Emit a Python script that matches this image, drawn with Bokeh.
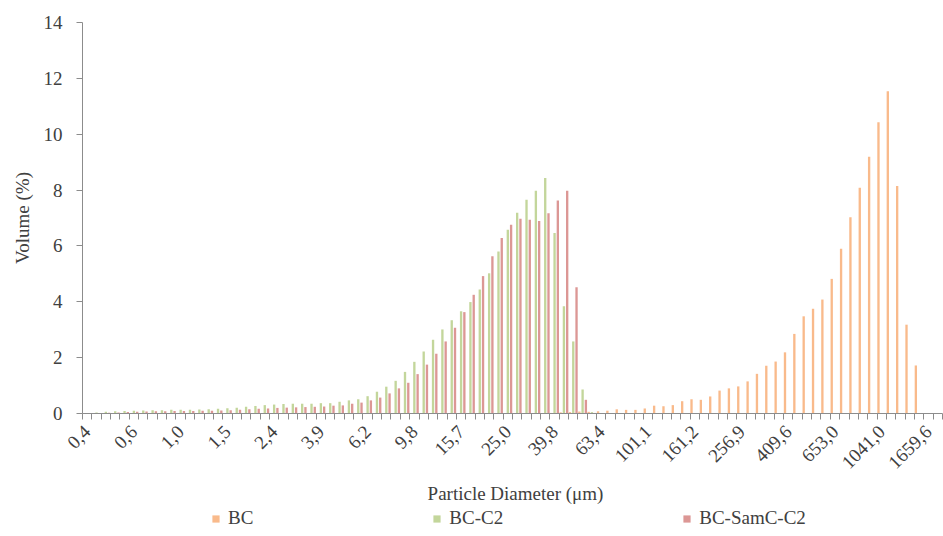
from math import pi

from bokeh.embed import file_html
from bokeh.models import (ColumnDataSource, FixedTicker, Label, Legend, LegendItem,
                          Range1d)
from bokeh.plotting import figure
from bokeh.resources import INLINE

# Particle diameter classes (µm); one label shown every fifth class
diameter_labels = ["0,4", "0,6", "1,0", "1,5", "2,4", "3,9", "6,2", "9,8", "15,7",
                   "25,0", "39,8", "63,4", "101,1", "161,2", "256,9", "409,6",
                   "653,0", "1041,0", "1659,6"]
label_step = 5

# Volume (%) per size class
bc = [0, 0, 0, 0, 0, 0, 0, 0, 0, 0,
      0, 0, 0, 0, 0, 0, 0, 0, 0, 0,
      0, 0, 0, 0, 0, 0, 0, 0, 0, 0,
      0, 0, 0, 0, 0, 0, 0, 0, 0, 0,
      0, 0, 0, 0, 0, 0, 0, 0, 0, 0.01,
      0.02, 0.04, 0.05, 0.07, 0.06, 0.08, 0.10, 0.15, 0.13, 0.13,
      0.18, 0.28, 0.26, 0.30, 0.44, 0.51, 0.49, 0.61, 0.82, 0.90,
      0.97, 1.15, 1.42, 1.71, 1.86, 2.19, 2.85, 3.48, 3.75, 4.08,
      4.82, 5.90, 7.03, 8.08, 9.19, 10.43, 11.54, 8.15, 3.18, 1.72,
      0, 0]

bc_c2 = [0.02, 0.04, 0.06, 0.08, 0.09, 0.10, 0.11, 0.12, 0.12, 0.13,
         0.13, 0.13, 0.14, 0.15, 0.17, 0.19, 0.21, 0.24, 0.27, 0.30,
         0.32, 0.34, 0.35, 0.35, 0.35, 0.37, 0.37, 0.42, 0.47, 0.51,
         0.62, 0.78, 0.96, 1.17, 1.49, 1.85, 2.22, 2.64, 3.01, 3.34,
         3.66, 3.99, 4.44, 5.02, 5.80, 6.58, 7.19, 7.65, 7.98, 8.43,
         6.46, 3.84, 2.58, 0.86, 0.05, 0, 0, 0, 0, 0,
         0, 0, 0, 0, 0, 0, 0, 0, 0, 0,
         0, 0, 0, 0, 0, 0, 0, 0, 0, 0,
         0, 0, 0, 0, 0, 0, 0, 0, 0, 0,
         0, 0]

bc_samc_c2 = [0.00, 0.01, 0.03, 0.04, 0.05, 0.06, 0.07, 0.08, 0.08, 0.09,
              0.09, 0.09, 0.10, 0.10, 0.11, 0.12, 0.13, 0.15, 0.17, 0.18,
              0.20, 0.21, 0.22, 0.23, 0.24, 0.25, 0.28, 0.29, 0.35, 0.39,
              0.47, 0.57, 0.72, 0.90, 1.10, 1.41, 1.75, 2.14, 2.58, 3.07,
              3.63, 4.25, 4.92, 5.63, 6.28, 6.76, 6.97, 6.94, 6.89, 7.17,
              7.63, 7.98, 4.52, 0.49, 0.02, 0, 0, 0, 0, 0,
              0, 0, 0, 0, 0, 0, 0, 0, 0, 0,
              0, 0, 0, 0, 0, 0, 0, 0, 0, 0,
              0, 0, 0, 0, 0, 0, 0, 0, 0, 0,
              0, 0]

series_names = ["BC", "BC-C2", "BC-SamC-C2"]
series_values = [bc, bc_c2, bc_samc_c2]
series_colors = ["#F9BA8B", "#C3D69B", "#DC9795"]
series_offsets = [-0.35, 0.0, 0.35]

FONT = "Liberation Serif"
FONT_SIZE = "19px"
TEXT = "#404040"
AXIS = "#8C8C8C"

n = len(bc)
idx = list(range(n))

# Canvas layout (px). The frame covers the whole canvas; both axes are pinned
# inside it so the rotated labels, titles and legend row are all drawn in it.
W, H = 943, 536
LEFT, RIGHT, TOP, BOTTOM = 82, 1, 22, 123
Y_MAX = 14

px_per_cat = (W - LEFT - RIGHT) / n
px_per_unit = (H - TOP - BOTTOM) / Y_MAX
x_lo = -0.5 - LEFT / px_per_cat
x_hi = n - 0.5 + RIGHT / px_per_cat
y_lo = -BOTTOM / px_per_unit
y_hi = Y_MAX + TOP / px_per_unit


def x_at(px):
    return x_lo + px / px_per_cat


def y_at(py):
    return y_hi - py / px_per_unit


p = figure(width=W, height=H, frame_width=W, frame_height=H,
           x_range=Range1d(x_lo, x_hi), y_range=Range1d(y_lo, y_hi),
           output_backend="svg", toolbar_location=None,
           min_border_left=0, min_border_right=0,
           min_border_top=0, min_border_bottom=0)
p.grid.visible = False
p.outline_line_color = None
p.background_fill_color = "white"

items = []
for name, vals, color, off in zip(series_names, series_values, series_colors, series_offsets):
    src = ColumnDataSource(dict(x=[i + off for i in idx], top=vals))
    r = p.vbar(x="x", top="top", bottom=0, width=0.25, source=src,
               fill_color=color, line_color=None)
    items.append(LegendItem(label=name, renderers=[r]))

# y axis at the left edge of the first class
p.yaxis.fixed_location = -0.5
p.yaxis.bounds = (0, Y_MAX)
p.yaxis.ticker = FixedTicker(ticks=list(range(0, Y_MAX + 1, 2)))
p.yaxis.major_tick_out = 6
p.yaxis.major_tick_in = 0
p.yaxis.minor_tick_out = 0
p.yaxis.minor_tick_in = 0
p.yaxis.major_label_standoff = 14

# x axis at y = 0: labels on every fifth class, tick marks between classes
label_pos = [i * label_step for i in range(len(diameter_labels))]
p.xaxis.fixed_location = 0
p.xaxis.bounds = (-0.5, n - 0.5)
p.xaxis.ticker = FixedTicker(ticks=label_pos,
                             minor_ticks=[k - 0.5 for k in range(n + 1)])
p.xaxis.major_label_overrides = {pos: lab for pos, lab in zip(label_pos, diameter_labels)}
p.xaxis.major_label_orientation = pi / 4
p.xaxis.major_tick_out = 0
p.xaxis.major_tick_in = 0
p.xaxis.minor_tick_out = 6
p.xaxis.minor_tick_in = 0
p.xaxis.major_label_standoff = 9

for ax in (p.xaxis, p.yaxis):
    ax.axis_line_color = AXIS
    ax.major_tick_line_color = AXIS
    ax.minor_tick_line_color = AXIS
    ax.major_label_text_font = FONT
    ax.major_label_text_font_size = FONT_SIZE
    ax.major_label_text_color = TEXT

# axis titles
title_style = dict(text_font=FONT, text_font_size=FONT_SIZE, text_color=TEXT,
                   text_align="center", text_baseline="middle")
p.add_layout(Label(x=x_at(22), y=Y_MAX / 2, text="Volume (%)", angle=pi / 2,
                   **title_style))
p.add_layout(Label(x=x_at(515), y=y_at(493), text="Particle Diameter (μm)",
                   **title_style))

# legend row, in screen units from the frame's bottom-left corner
legend = Legend(items=items, orientation="horizontal", location=(211, 7),
                spacing=179, glyph_width=9, glyph_height=9, label_standoff=8,
                label_text_font=FONT, label_text_font_size=FONT_SIZE,
                label_text_color=TEXT, border_line_color=None,
                background_fill_alpha=0, padding=0, margin=0)
p.add_layout(legend, "center")

open("out.html", "w").write(file_html(p, INLINE))
